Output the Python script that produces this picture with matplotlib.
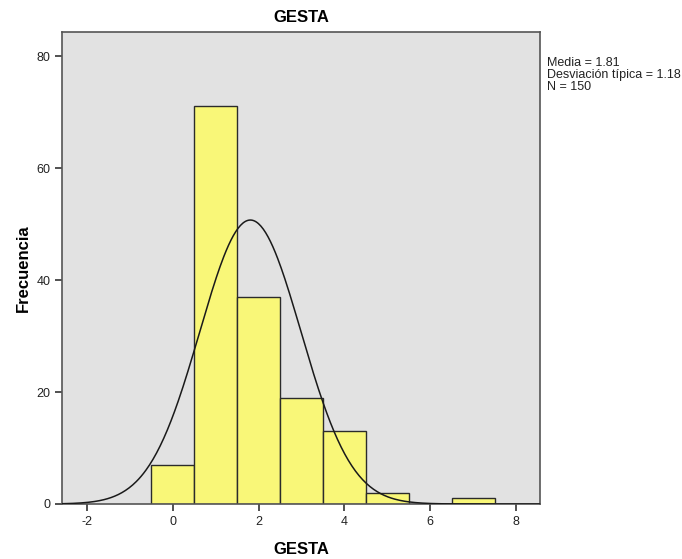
import numpy as np
from matplotlib import pyplot as plt

plt.rcParams['font.family'] = ['Liberation Sans', 'DejaVu Sans']
plt.rcParams['axes.unicode_minus'] = False

# GESTA histogram (SPSS style)
gesta_values = [0, 1, 2, 3, 4, 5, 6, 7]
frequencies = [7, 71, 37, 19, 13, 2, 0, 1]
x_ticks = [-2, 0, 2, 4, 6, 8]
y_ticks = [0, 20, 40, 60, 80]
mean = 1.81
std = 1.18
n = 150

fig = plt.figure(figsize=(6.82, 5.59), dpi=100)
ax = fig.add_axes([0.0909, 0.0984, 0.7009, 0.8444])
ax.set_facecolor("#e2e2e2")

ax.bar(gesta_values, frequencies, width=1.0, color="#f9f778",
       edgecolor="#2b2b2b", linewidth=1.0, zorder=2)

xs = np.linspace(-2.58, 8.56, 400)
ys = n * 1.0 / (std * np.sqrt(2 * np.pi)) * np.exp(-0.5 * ((xs - mean) / std) ** 2)
ax.plot(xs, ys, color="#1a1a1a", linewidth=1.1, zorder=3)

ax.set_xlim(-2.58, 8.56)
ax.set_ylim(0, 84.3)
ax.set_xticks(x_ticks)
ax.set_yticks(y_ticks)
ax.tick_params(direction="out", length=5, width=1.2, color="#333333",
               labelsize=9, labelcolor="#222222")
for s in ax.spines.values():
    s.set_color("#555555")
    s.set_linewidth(1.2)

ax.set_title("GESTA", fontsize=12, fontweight="bold", pad=7)
ax.set_xlabel("GESTA", fontsize=12, fontweight="bold", labelpad=10)
ax.set_ylabel("Frecuencia", fontsize=12, fontweight="bold", labelpad=4)

fig.text(547 / 682, 1 - 57 / 559,
         "Media = 1.81\nDesviación típica = 1.18\nN = 150",
         fontsize=9, va="top", ha="left", linespacing=1.0, color="#222222")

fig.savefig("out.png", dpi=100)
